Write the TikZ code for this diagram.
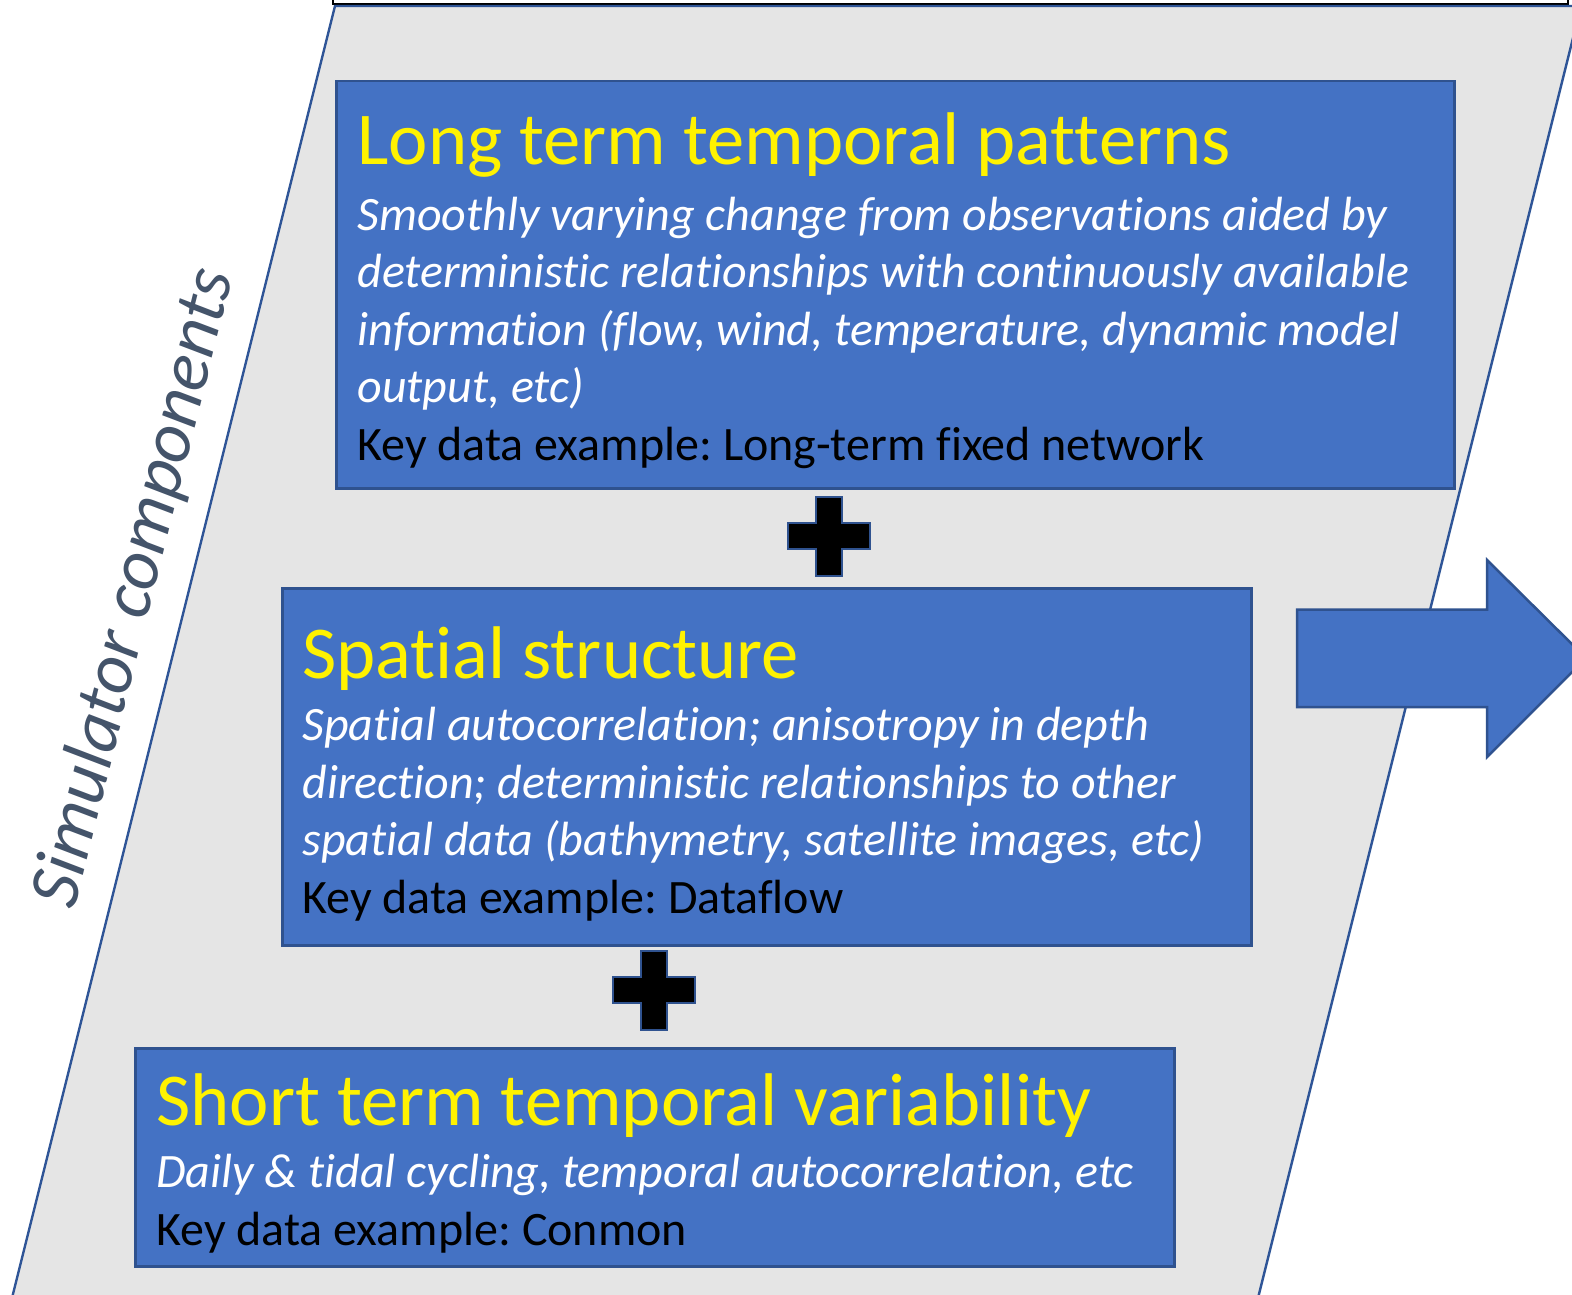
\documentclass[tikz,border=0pt]{standalone}
\usepackage{fontspec}
\setmainfont{Carlito}[Ligatures=NoCommon]
\usepackage{xcolor}
\definecolor{boxblue}{HTML}{4472C4}
\definecolor{boxline}{HTML}{2F528F}
\definecolor{panelgray}{HTML}{E5E5E5}
\definecolor{panelline}{HTML}{2F5597}
\definecolor{sidetext}{HTML}{44546A}
\usetikzlibrary{positioning,calc}
\tikzset{
  panel/.style={draw=panelline, fill=panelgray, line width=1.2pt},
  nblue/.style={rectangle, draw=boxline, fill=boxblue, line width=1.25pt,
                inner sep=0pt, anchor=north west},
  ntitle/.style={anchor=base west, inner sep=0pt, text=yellow,
                 font=\fontsize{37.3}{44}\selectfont},
  % base of a multi-line node is the baseline of its last line
  nbody/.style={anchor=base west, inner sep=0pt, align=left, text=white,
                font=\fontsize{24}{28.75}\selectfont\itshape\frenchspacing},
  nside/.style={inner sep=0pt, text=sidetext, rotate=76,
                font=\fontsize{36}{43}\selectfont\itshape},
  plus/.style={fill=black, draw=boxline, line width=1pt},
  bigar/.style={fill=boxblue, draw=boxline, line width=1.25pt},
}
\newcommand{\keyline}[1]{{\upshape\color{black}Key data example: #1}}

\begin{document}
\begin{tikzpicture}[x=0.5pt, y=-0.5pt]
  \useasboundingbox (0,0) rectangle (1572,1294);
  \clip (0,0) rectangle (1572,1294);
  \fill[white] (0,0) rectangle (1572,1294);

  % box running off the top edge
  \draw[black, fill=white, line width=1pt] (333,-20) rectangle (1568,4);

  % slanted panel behind the components
  \draw[panel] (335,6) -- (1581,6) -- (1255,1310) -- (9,1310) -- cycle;
  \node[nside] (side) at (135,588) {Simulator components};

  % the three components
  \node[nblue, minimum width=559pt, minimum height=203.5pt] (longterm) at (335,80) {};
  \node[nblue, minimum width=484.5pt, minimum height=178.5pt] (spatial) at (281,587) {};
  \node[nblue, minimum width=519.5pt, minimum height=109pt] (shortterm) at (134,1047) {};

  \node[ntitle] (longterm-title) at ([shift={(11pt,-42.5pt)}]longterm.north west)
    {Long term temporal patterns};
  \node[nbody] (longterm-body) at ([yshift=-147.5pt]longterm-title.base west)
    {Smoothly varying change from observations aided by\\
     deterministic relationships with continuously available\\
     information (flow, wind, temperature, dynamic model\\
     output, etc)\\
     \keyline{Long-term fixed network}};

  \node[ntitle] (spatial-title) at ([shift={(10.5pt,-45.5pt)}]spatial.north west)
    {Spatial structure};
  \node[nbody] (spatial-body) at ([yshift=-117.5pt]spatial-title.base west)
    {Spatial autocorrelation; anisotropy in depth\\
     direction; deterministic relationships to other\\
     spatial data (bathymetry, satellite images, etc)\\
     \keyline{Dataflow}};

  \node[ntitle] (shortterm-title) at ([shift={(11pt,-39pt)}]shortterm.north west)
    {Short term temporal variability};
  \node[nbody] (shortterm-body) at ([yshift=-60pt]shortterm-title.base west)
    {Daily \& tidal cycling, temporal autocorrelation, etc\\
     \keyline{Conmon}};

  % plus signs between the boxes
  \coordinate (plus1) at (829,536);
  \coordinate (plus2) at (654,990);
  \foreach \p in {plus1,plus2}
    \draw[plus] ([shift={(-13,-39.5)}]\p) -- ++(26,0) -- ++(0,26.5) -- ++(28,0)
      -- ++(0,26) -- ++(-28,0) -- ++(0,26.5) -- ++(-26,0) -- ++(0,-26.5)
      -- ++(-28,0) -- ++(0,-26) -- ++(28,0) -- cycle;

  % block arrow out to the right
  \coordinate (out) at (1297,658);
  \draw[bigar] ([shift={(0,-48.5)}]out) -- ++(190,0) -- ++(0,-49.5) -- ++(99,98)
    -- ++(-99,99) -- ++(0,-50) -- ([shift={(0,49)}]out) -- cycle;
\end{tikzpicture}
\end{document}
